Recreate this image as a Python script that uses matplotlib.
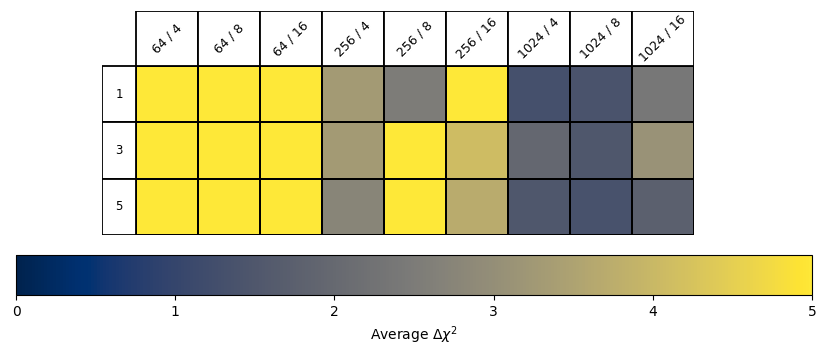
import numpy as np
import matplotlib
matplotlib.use("Agg")
import matplotlib.pyplot as plt
from matplotlib.patches import Rectangle

col_labels = ["64 / 4", "64 / 8", "64 / 16", "256 / 4", "256 / 8", "256 / 16",
              "1024 / 4", "1024 / 8", "1024 / 16"]
row_labels = ["1", "3", "5"]
row1 = [5.0, 5.0, 5.0, 3.3, 2.5, 5.0, 1.3, 1.4, 2.4]
row3 = [5.0, 5.0, 5.0, 3.3, 5.0, 4.1, 1.95, 1.5, 3.1]
row5 = [5.0, 5.0, 5.0, 2.75, 5.0, 3.7, 1.5, 1.35, 1.75]
values = np.array([row1, row3, row5])

fig = plt.figure(figsize=(8.3, 3.61), dpi=100)
ax = fig.add_axes([102/830, 1-235/361, (694-102)/830, 224/361])
ncol, nrow = len(col_labels), len(row_labels)
lab_w = 34/62
head_h = 55/56

mesh = ax.pcolormesh(np.arange(ncol+1), np.arange(nrow+1), values, cmap="cividis",
                     vmin=0, vmax=5, edgecolors="black", linewidth=1.3)
lw = 1.3
for j, lab in enumerate(col_labels):
    ax.add_patch(Rectangle((j, -head_h), 1, head_h, facecolor="white", edgecolor="black", lw=lw))
    ax.text(j+0.5, -head_h/2, lab, rotation=45, ha="center", va="center", fontsize=9)
for i, lab in enumerate(row_labels):
    ax.add_patch(Rectangle((-lab_w, i), lab_w, 1, facecolor="white", edgecolor="black", lw=lw))
    ax.text(-lab_w/2, i+0.5, lab, ha="center", va="center", fontsize=8.5)
ax.set_xlim(-lab_w, ncol)
ax.set_ylim(nrow, -head_h)
ax.axis("off")

cax = fig.add_axes([16/830, 1-295/361, 796/830, 40/361])
cb = fig.colorbar(mesh, cax=cax, orientation="horizontal")
cb.set_ticks([0, 1, 2, 3, 4, 5])
cb.ax.tick_params(labelsize=10)
cb.set_label(r"Average $\Delta\chi^2$", fontsize=10)

fig.savefig("out.png", dpi=100)
